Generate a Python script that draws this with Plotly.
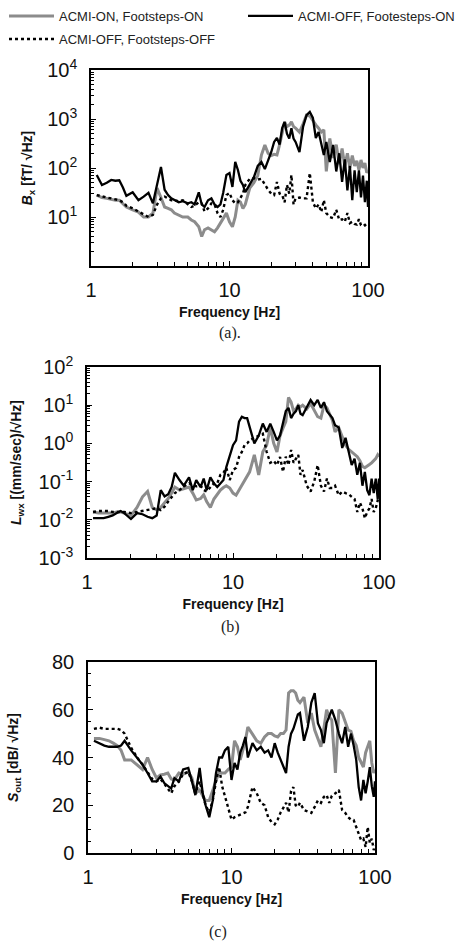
import plotly.graph_objects as go

# ---------------- data ----------------
FREQ = [1.1, 1.2, 1.3, 1.4, 1.5, 1.6, 1.7, 1.8, 2.0, 2.2, 2.4, 2.6, 2.8, 3.0, 3.2, 3.4, 3.6, 3.8,
        4.0, 4.3, 4.6, 5.0, 5.3, 5.6, 6.0, 6.3, 6.6, 7.0, 7.4, 7.8, 8.2, 8.6, 9.0, 9.5,
        10, 10.5, 11, 11.5, 12, 12.5, 13, 14, 15, 16, 17, 18, 19, 20, 21, 22, 23, 24, 25, 26,
        27, 28, 29, 30, 32, 34, 36, 38, 40, 42, 44, 46, 48, 50, 53, 56, 59, 62, 65, 68, 71,
        74, 77, 80, 83, 86, 89, 92, 95, 98, 100]

# (a) Bx [fT/sqrt(Hz)]
BX_ON_ON = [28, 25, 24, 23, 22, 22, 19, 16, 14, 12.6, 10, 10, 12, 39, 25, 16, 15, 14,
            12, 11, 10, 10, 8.7, 8, 6.3, 4.0, 5.5, 6, 5.5, 5, 6, 7.5, 9, 12,
            8, 6.3, 10, 22, 20, 15, 18, 39, 50, 70, 184, 295, 200, 180, 190, 184, 300, 500, 870, 700,
            750, 870, 700, 650, 540, 800, 1200, 1150, 900, 756, 650, 540, 600, 85, 400, 160, 300, 120, 250, 110, 200,
            100, 180, 110, 140, 91, 146, 100, 126, 80, 90]
BX_OFF_ON = [72, 45, 50, 57, 55, 56, 40, 27, 32, 22, 26, 31, 19, 49, 105, 36, 28, 24,
             22, 20, 21, 19, 20, 18, 32, 18, 16, 22, 24, 18, 16, 18, 31, 72,
             79, 41, 133, 91, 55, 45, 32, 45, 65, 110, 133, 95, 140, 210, 340, 410, 300, 650, 870, 500,
             400, 650, 400, 340, 210, 700, 1200, 1400, 1050, 410, 540, 295, 184, 340, 133, 295, 85, 200, 52, 150, 35,
             110, 22, 90, 32, 90, 25, 70, 20, 55, 16]
BX_OFF_OFF = [28, 26, 25, 24, 23, 22, 20, 17, 15, 13, 11, 10, 11, 18, 24, 26, 24, 22,
              22, 21, 22, 18, 16, 17, 20, 19, 13, 15, 19, 18, 12, 10, 14, 28,
              31, 22, 19, 20, 24, 30, 45, 60, 62, 58, 60, 45, 36, 30, 28, 52, 30, 28, 20, 45,
              30, 72, 18, 24, 25, 24, 24, 79, 20, 15, 18, 12.6, 22, 12, 10, 9.5, 14, 8.7, 9, 8, 12,
              7.5, 8, 7.2, 7, 9, 6.8, 6.5, 6.9, 6.2, 6]

# (b) Lwx [(mm/sec)/sqrt(Hz)]
LWX_ON_ON = [0.016, 0.015, 0.015, 0.015, 0.015, 0.016, 0.016, 0.015, 0.013, 0.021, 0.04, 0.055, 0.021, 0.018, 0.021, 0.028, 0.036, 0.05,
             0.072, 0.06, 0.065, 0.072, 0.05, 0.033, 0.036, 0.045, 0.03, 0.021, 0.035, 0.045, 0.06, 0.07, 0.078, 0.068,
             0.05, 0.044, 0.06, 0.078, 0.1, 0.13, 0.18, 0.5, 0.15, 0.6, 0.9, 2.6, 1.0, 0.6, 1.6, 2.5, 3.7, 16, 12, 7,
             8, 10, 9, 10, 8, 11, 7, 5, 4.6, 10, 8.5, 6, 4, 2.0, 2.6, 1.5, 0.9, 0.7, 0.6, 0.5, 0.45,
             0.35, 0.25, 0.23, 0.25, 0.28, 0.31, 0.35, 0.4, 0.5, 0.45]
LWX_OFF_ON = [0.011, 0.011, 0.011, 0.012, 0.013, 0.015, 0.017, 0.015, 0.0105, 0.015, 0.014, 0.012, 0.011, 0.013, 0.06, 0.041, 0.047, 0.072,
              0.17, 0.11, 0.078, 0.13, 0.06, 0.11, 0.072, 0.12, 0.06, 0.13, 0.09, 0.072, 0.09, 0.11, 0.24, 0.5,
              0.9, 1.2, 3.7, 5.0, 4.6, 4.6, 2.6, 1.0, 1.6, 3.3, 2.0, 3.3, 2.0, 1.2, 1.6, 3.7, 7.0, 8.5, 4.6, 6.0,
              7.0, 10, 6, 5.5, 8.5, 13.7, 10, 13.7, 8.5, 12, 7, 5.5, 4.6, 3.0, 2.6, 0.76, 1.4, 0.6, 0.27, 0.4, 0.15,
              0.31, 0.078, 0.18, 0.06, 0.044, 0.12, 0.05, 0.12, 0.035, 0.12]
LWX_OFF_OFF = [0.016, 0.017, 0.017, 0.017, 0.016, 0.016, 0.016, 0.016, 0.015, 0.016, 0.017, 0.018, 0.019, 0.02, 0.018, 0.022, 0.03, 0.04,
               0.05, 0.06, 0.075, 0.09, 0.08, 0.075, 0.078, 0.06, 0.055, 0.07, 0.09, 0.09, 0.15, 0.17, 0.23, 0.11,
               0.2, 0.23, 0.44, 0.6, 0.9, 1.0, 1.2, 1.4, 1.6, 1.8, 0.6, 0.31, 0.35, 0.27, 0.44, 0.18, 0.45, 0.27, 0.67, 0.31,
               0.4, 0.5, 0.15, 0.2, 0.078, 0.055, 0.1, 0.27, 0.078, 0.055, 0.12, 0.068, 0.068, 0.078, 0.044, 0.055, 0.05, 0.047, 0.04, 0.035, 0.016,
               0.028, 0.02, 0.011, 0.016, 0.02, 0.035, 0.016, 0.02, 0.03, 0.044]

# (c) Sout [dB/sqrt(Hz)]
SOUT_ON_ON = [48, 48, 47.5, 47, 46, 45, 43, 39, 39, 37, 35, 40, 35, 31.4, 32.7, 33, 33.5, 31,
              30.6, 33.5, 33, 34, 31.4, 25, 26.4, 24, 22, 22, 26, 30.6, 34, 33.5, 33.5, 35,
              36, 47, 44.5, 39, 43, 47, 52.8, 50, 47, 46, 48.6, 50, 50, 49, 48.6, 50, 50, 51.5, 67, 68,
              68, 67, 64, 63, 65.3, 54.4, 58.6, 51.5, 48, 44.5, 52, 60, 57, 55.7, 33.5, 60, 58.6, 55, 51.5, 51, 47,
              45, 40, 38, 36, 42, 45, 47, 37.7, 33.5, 35]
SOUT_OFF_ON = [47, 46, 45, 44.5, 44.5, 44.5, 45, 47, 43, 40, 37, 33.5, 30, 30, 32, 29.3, 28, 27,
               31.4, 30, 35, 35.6, 30, 24.3, 35.6, 25, 20, 15, 22, 33.5, 40, 40, 43, 44.5,
               30.6, 37.7, 35, 42, 45, 48.6, 40, 46, 43, 44.5, 42, 43, 40, 46, 42, 39, 36, 33.5, 44.5, 50,
               52, 55.7, 58, 58.6, 47, 52.8, 63, 67, 54.4, 51.5, 46, 54.4, 57, 60, 55.7, 50, 46, 52.8, 44.5, 50, 45,
               39, 27.6, 22, 30.6, 25, 30, 36, 28, 23.5, 30]
SOUT_OFF_OFF = [52, 52.5, 52, 52, 52, 52, 51.5, 50, 44, 40, 37, 34, 31, 30, 31, 29, 27, 25,
                28, 30, 33, 34, 30, 25, 30, 25, 20, 17, 22, 30, 36, 28, 23.5, 18,
                14, 15, 15.5, 16, 16.5, 17, 19.3, 27.6, 25, 21, 20, 15, 13, 12, 14, 17, 19, 21, 17, 26,
                27.6, 20, 19.3, 21, 18, 17.2, 16.8, 19.3, 22, 21, 23.5, 24.3, 21, 24, 25, 26.4, 18, 16.8, 15, 14, 13.8,
                10.9, 8.4, 5.4, 6, 2.5, 10.9, 4.2, 6, 1.2, 3]

SERIES_NAMES = ["ACMI-ON, Footsteps-ON", "ACMI-OFF, Footesteps-ON", "ACMI-OFF, Footsteps-OFF"]
X_TICK_VALS = [1, 10, 100]
X_TICK_TEXT = ["1", "10", "100"]
Y_TITLES = ["<b><i>B</i><sub>x</sub> [fT/ √Hz]</b>",
            "<b><i>L</i><sub>wx</sub> [(mm/sec)/√Hz]</b>",
            "<b><i>S</i><sub>out</sub> [dB/ √Hz]</b>"]
CAPTIONS = ["(a).", "(b)", "(c)"]

# ---------------- figure ----------------
W, H = 465, 941
GRAY = "#8c8c8c"
FONT = "Liberation Sans, Arial, sans-serif"
TICKFONT = dict(family=FONT, size=20, color="#111")
TITLEFONT = dict(family=FONT, size=14, color="#111")

# panel boxes in pixels: (left, right, top, bottom)
BOXES = [(91, 368, 70, 266), (87, 379, 367, 558), (88, 375, 662, 853)]
YTITLE_STANDOFF = [11, 14, 30]

panels = [
    (BX_ON_ON, BX_OFF_ON, BX_OFF_OFF),
    (LWX_ON_ON, LWX_OFF_ON, LWX_OFF_OFF),
    (SOUT_ON_ON, SOUT_OFF_ON, SOUT_OFF_OFF),
]

styles = [dict(color=GRAY, width=3.0),
          dict(color="black", width=2.3),
          dict(color="black", width=2.4, dash="3px,3px")]
legend_ids = ["legend", "legend2", "legend3"]

fig = go.Figure()
for p, series in enumerate(panels):
    xa = "x" if p == 0 else f"x{p+1}"
    ya = "y" if p == 0 else f"y{p+1}"
    for s, vals in enumerate(series):
        fig.add_trace(go.Scatter(
            x=FREQ, y=vals, mode="lines", name=SERIES_NAMES[s],
            line=styles[s], xaxis=xa, yaxis=ya,
            showlegend=(p == 0), legend=legend_ids[s],
        ))


def decade_minor(lo, hi):
    vals = []
    for e in range(lo, hi):
        for m in range(2, 10):
            vals.append(m * 10.0 ** e)
    return vals


common_axis = dict(showline=True, mirror=True, linecolor="black", linewidth=1.5,
                   ticks="inside", ticklen=5, tickcolor="black", tickwidth=1,
                   showgrid=False, zeroline=False, tickfont=TICKFONT)

x_minor = dict(tickmode="array", tickvals=decade_minor(0, 2), ticks="inside",
               ticklen=4, tickcolor="black", tickwidth=1, showgrid=False)

y_specs = [
    dict(type="log", range=[0, 4],
         vals=[10, 100, 1000, 10000],
         text=["10<sup>1</sup>", "10<sup>2</sup>", "10<sup>3</sup>", "10<sup>4</sup>"],
         minor=[1] + decade_minor(0, 4)),
    dict(type="log", range=[-3, 2],
         vals=[0.001, 0.01, 0.1, 1, 10, 100],
         text=["10<sup>-3</sup>", "10<sup>-2</sup>", "10<sup>-1</sup>", "10<sup>0</sup>",
               "10<sup>1</sup>", "10<sup>2</sup>"],
         minor=decade_minor(-3, 2)),
    dict(type="linear", range=[0, 80],
         vals=[0, 20, 40, 60, 80], text=["0", "20", "40", "60", "80"],
         minor=[5, 10, 15, 25, 30, 35, 45, 50, 55, 65, 70, 75]),
]

for p in range(3):
    l, r, t, b = BOXES[p]
    xkey = "xaxis" if p == 0 else f"xaxis{p+1}"
    ykey = "yaxis" if p == 0 else f"yaxis{p+1}"
    yanchor = "y" if p == 0 else f"y{p+1}"
    xanchor = "x" if p == 0 else f"x{p+1}"
    fig.layout[xkey] = dict(common_axis, type="log", range=[0, 2],
                            domain=[l / W, r / W], anchor=yanchor,
                            tickmode="array", tickvals=X_TICK_VALS, ticktext=X_TICK_TEXT,
                            minor=x_minor, ticklabelstandoff=5,
                            title=dict(text="<b>Frequency [Hz]</b>", font=TITLEFONT, standoff=7))
    spec = y_specs[p]
    fig.layout[ykey] = dict(common_axis, type=spec["type"], range=spec["range"],
                            domain=[1 - b / H, 1 - t / H], anchor=xanchor,
                            tickmode="array", tickvals=spec["vals"], ticktext=spec["text"],
                            minor=dict(tickmode="array", tickvals=spec["minor"], ticks="inside",
                                       ticklen=3, tickcolor="black", tickwidth=1, showgrid=False),
                            ticklabelstandoff=8,
                            title=dict(text=Y_TITLES[p], font=TITLEFONT, standoff=YTITLE_STANDOFF[p]))

cap_pos = [(230, 333), (230, 627), (218, 932)]
for p, (cx, cy) in enumerate(cap_pos):
    fig.add_annotation(text=CAPTIONS[p], x=cx / W, y=1 - cy / H, xref="paper", yref="paper",
                       showarrow=False, xanchor="center", yanchor="middle",
                       font=dict(family="Liberation Serif, Times New Roman, serif", size=16, color="#222"))

legfont = dict(family=FONT, size=13, color="#222")
leg_common = dict(orientation="h", xanchor="left", yanchor="middle", itemwidth=45,
                  font=legfont, bgcolor="rgba(0,0,0,0)", borderwidth=0)

fig.update_layout(
    width=W, height=H, margin=dict(l=0, r=0, t=0, b=0, autoexpand=False),
    paper_bgcolor="white", plot_bgcolor="white",
    legend=dict(leg_common, x=4 / W, y=1 - 16 / H),
    legend2=dict(leg_common, x=243 / W, y=1 - 16 / H),
    legend3=dict(leg_common, x=4 / W, y=1 - 39 / H),
)

fig.write_html("out.html", config={"displayModeBar": False},
               post_script="document.body.style.margin='0px';")
